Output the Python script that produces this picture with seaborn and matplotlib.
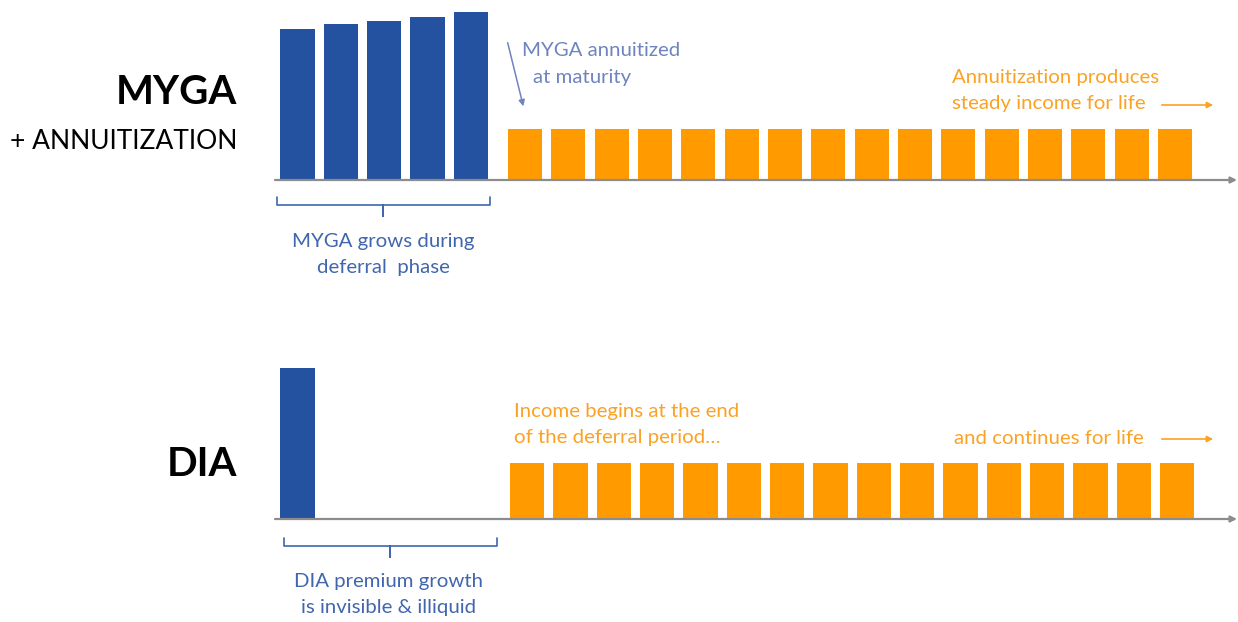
import matplotlib
matplotlib.use("Agg")
import matplotlib.pyplot as plt
import pandas as pd
import seaborn as sns

# ---- data -------------------------------------------------------------
# value units: single DIA premium = 100
myga_years = [0, 1, 2, 3, 4]
myga_values = [100, 103, 105, 108, 111]
myga_income_years = list(range(5, 21))
myga_income = [34] * 16

dia_years = [0]
dia_premium = [100]
dia_income_years = list(range(5, 21))
dia_income = [37] * 16

# ---- style ------------------------------------------------------------
sns.set_theme(style="white")
plt.rcParams["font.family"] = ["Lato", "DejaVu Sans"]

BLUE = "#2451A0"
ORANGE = "#FF9B00"
AXIS_GRAY = "#8C8C8C"
NOTE_BLUE = "#6F84BF"
BRACE_BLUE = "#4066AF"
NOTE_ORANGE = "#FBA224"
NOTE_SIZE = 14.7

W, H = 1238, 622
fig = plt.figure(figsize=(W / 100, H / 100), dpi=100)
fig.patch.set_facecolor("white")


def fx(px):
    return px / W


def fy(py):
    return 1 - py / H


def panel(base_px, top_px, left_px=275, right_px=1237):
    return fig.add_axes([fx(left_px), fy(base_px), fx(right_px) - fx(left_px),
                         (base_px - top_px) / H])


def draw_panel(ax, dep_x, dep_y, inc_x, inc_y, gap):
    df = pd.DataFrame({
        "period": list(dep_x) + [x + gap for x in inc_x],
        "value": list(dep_y) + list(inc_y),
        "phase": ["deferral"] * len(dep_x) + ["income"] * len(inc_x),
    })
    sns.barplot(data=df, x="period", y="value", hue="phase",
                palette={"deferral": BLUE, "income": ORANGE},
                native_scale=True, dodge=False, width=0.79,
                legend=False, ax=ax, linewidth=0, saturation=1)
    ax.set_xlim(-0.52, 21.68)
    ax.set_ylim(0, 119.2)
    ax.axis("off")
    ax.annotate("", xy=(1.0, 0), xytext=(0, 0),
                xycoords="axes fraction", textcoords="axes fraction",
                arrowprops=dict(arrowstyle="-|>", color=AXIS_GRAY, lw=1.6,
                                mutation_scale=9, shrinkA=0, shrinkB=0),
                annotation_clip=False)


ax_top = panel(180, 0)
draw_panel(ax_top, myga_years, myga_values, myga_income_years, myga_income, 0.25)

ax_bot = panel(519, 339)
draw_panel(ax_bot, dia_years, dia_premium, dia_income_years, dia_income, 0.30)


def brace(x0, x1, y, color):
    xm = (x0 + x1) / 2
    xs = [x0, x0, xm, xm, xm, x1, x1]
    ys = [y - 8, y, y, y + 11, y, y, y - 8]
    fig.add_artist(plt.Line2D([fx(v) for v in xs], [fy(v) for v in ys],
                              color=color, lw=1.2, solid_joinstyle="round"))


def flat_arrow(x0, x1, y, color):
    fig.add_artist(matplotlib.patches.FancyArrowPatch(
        (fx(x0), fy(y)), (fx(x1), fy(y)), transform=fig.transFigure,
        arrowstyle="-|>", mutation_scale=9, color=color, lw=1.2))


def note(x, y, s, color, ha="left"):
    fig.text(fx(x), fy(y), s, ha=ha, va="center", fontsize=NOTE_SIZE, color=color)


# ---- left titles ------------------------------------------------------
fig.text(fx(237), fy(92), "MYGA", ha="right", va="center",
         fontsize=29, fontweight="bold", color="black")
fig.text(fx(237), fy(142), "+ ANNUITIZATION", ha="right", va="center",
         fontsize=19, color="black")
fig.text(fx(237), fy(465), "DIA", ha="right", va="center",
         fontsize=29, fontweight="bold", color="black")

# ---- top panel notes --------------------------------------------------
note(522, 50, "MYGA annuitized", NOTE_BLUE)
note(533, 78, "at maturity", NOTE_BLUE)
fig.add_artist(matplotlib.patches.FancyArrowPatch(
    (fx(507), fy(40)), (fx(524), fy(109)), transform=fig.transFigure,
    arrowstyle="-|>", mutation_scale=9, color=NOTE_BLUE, lw=1.1))

note(952, 77, "Annuitization produces", NOTE_ORANGE)
note(952, 104, "steady income for life", NOTE_ORANGE)
flat_arrow(1159, 1216, 105, NOTE_ORANGE)

brace(277, 490, 205, BRACE_BLUE)
note(383, 241, "MYGA grows during", BRACE_BLUE, ha="center")
note(383, 268, "deferral  phase", BRACE_BLUE, ha="center")

# ---- bottom panel notes -----------------------------------------------
note(514, 411, "Income begins at the end", NOTE_ORANGE)
note(514, 438, "of the deferral period\u2026", NOTE_ORANGE)
note(954, 438, "and continues for life", NOTE_ORANGE)
flat_arrow(1159, 1216, 439, NOTE_ORANGE)

brace(284, 497, 546, BRACE_BLUE)
note(389, 581, "DIA premium growth", BRACE_BLUE, ha="center")
note(389, 608, "is invisible & illiquid", BRACE_BLUE, ha="center")

fig.savefig("out.png", dpi=100, facecolor="white")
